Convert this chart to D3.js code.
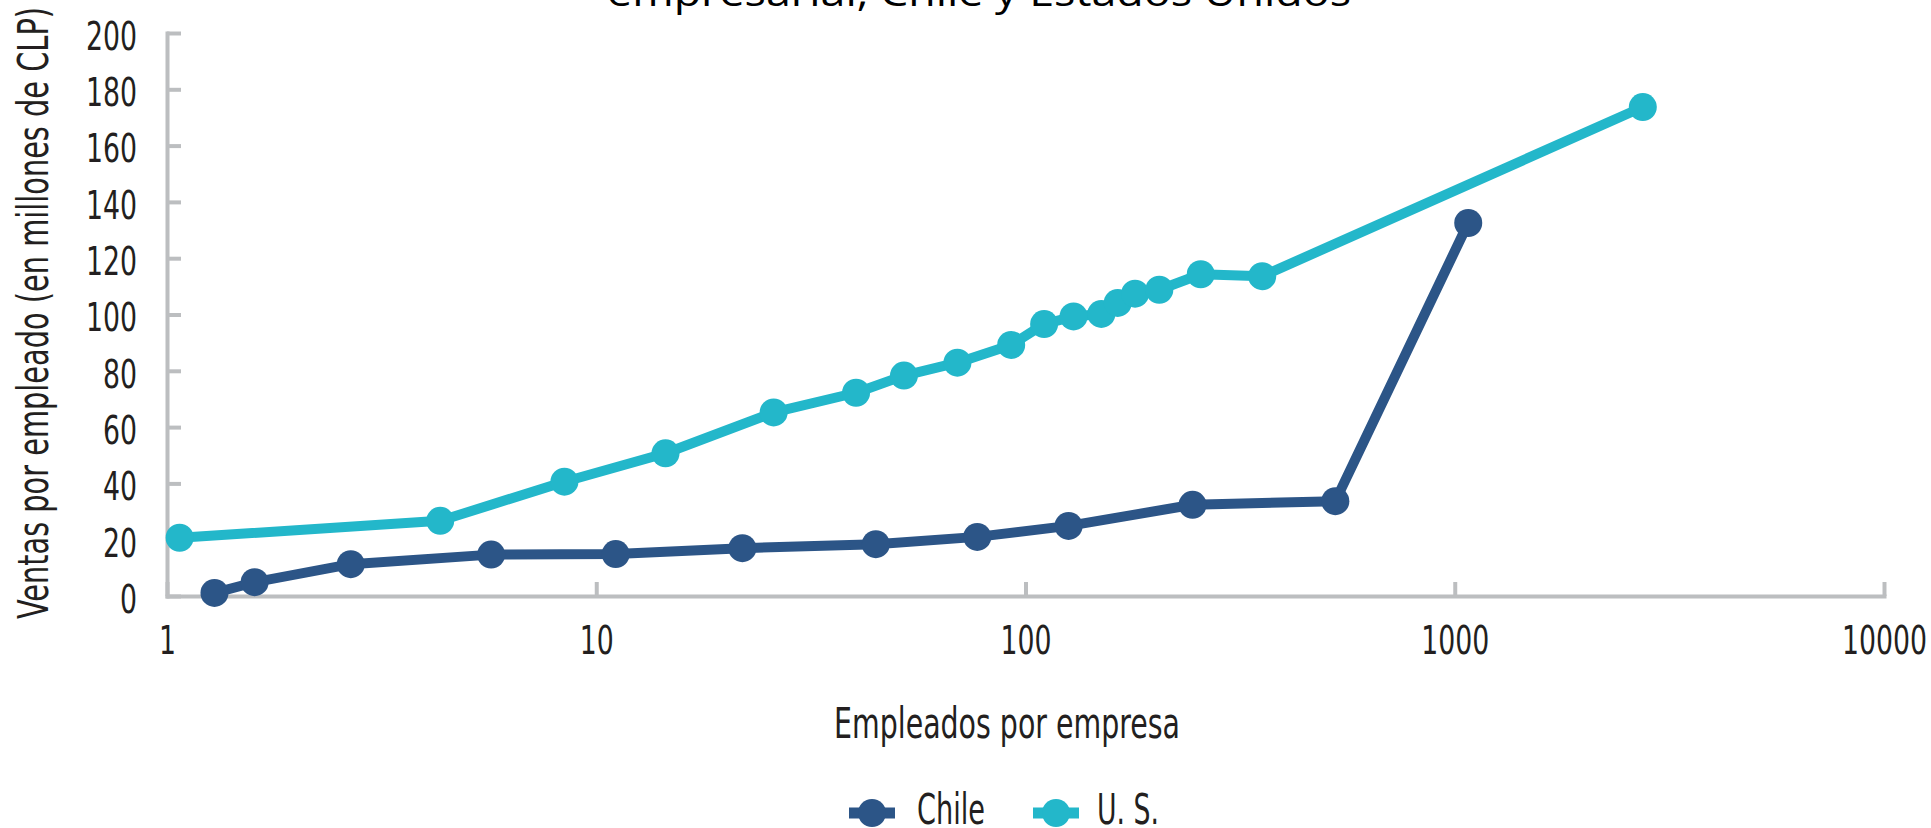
<!DOCTYPE html>
<html>
<head>
<meta charset="utf-8">
<script src="https://cdnjs.cloudflare.com/ajax/libs/d3/7.8.5/d3.min.js"></script>
<style>
  html, body { margin: 0; padding: 0; background: #fff; }
  svg { display: block; }
  .cond { font-family: "Liberation Sans Narrow", "DejaVu Sans Condensed", sans-serif; fill: #231f20; }
</style>
</head>
<body>
<script>
var W = 1931, H = 828;

// values
var chileX = [1.29, 1.60, 2.68, 5.69, 11.1, 21.9, 44.8, 77.2, 126, 245, 527, 1075];
var chileY = [1.1, 4.9, 11.3, 14.7, 14.9, 17.0, 18.4, 21.0, 24.9, 32.4, 33.7, 132.5];
var usX = [1.07, 4.33, 8.43, 14.5, 25.9, 40.3, 52.1, 69.4, 92.6, 110.5, 129.4, 150.2, 164, 180, 205, 256, 356, 2742];
var usY = [20.7, 26.7, 40.6, 50.7, 65.2, 72.2, 78.3, 82.9, 89.2, 96.6, 99.3, 100.2, 104.1, 107.4, 108.8, 114.3, 113.6, 173.7];
var seriesNames = ["Chile", "U. S."];
var xTicks = [1, 10, 100, 1000, 10000];
var yTicks = [0, 20, 40, 60, 80, 100, 120, 140, 160, 180, 200];

var colors = ["#2c5587", "#23b7ca"];

var series = [
  { name: seriesNames[0], color: colors[0], pts: chileX.map(function (v, i) { return { x: v, y: chileY[i] }; }) },
  { name: seriesNames[1], color: colors[1], pts: usX.map(function (v, i) { return { x: v, y: usY[i] }; }) }
];

var svg = d3.select("body").append("svg")
  .attr("width", W).attr("height", H);

var x = d3.scaleLog().domain([1, 10000]).range([167, 1884]);
var y = d3.scaleLinear().domain([0, 200]).range([596, 33]);

// title (only the last line shows in the frame)
svg.append("text")
  .attr("x", 979).attr("y", 6)
  .attr("text-anchor", "middle")
  .attr("textLength", 744).attr("lengthAdjust", "spacingAndGlyphs")
  .style("font-family", "'Open Sans', 'Noto Sans', sans-serif")
  .style("font-size", "38px")
  .style("fill", "#000")
  .text("empresarial, Chile y Estados Unidos");

// axes
var fmt = d3.format("d");
var xAxis = svg.append("g")
  .attr("transform", "translate(0," + y(0) + ")")
  .call(d3.axisBottom(x).tickValues(xTicks).tickFormat(fmt)
    .tickSize(-14).tickSizeOuter(0).tickPadding(30));

var yAxis = svg.append("g")
  .attr("transform", "translate(" + x(1) + ",0)")
  .call(d3.axisLeft(y).tickValues(yTicks).tickFormat(fmt)
    .tickSize(-14).tickSizeOuter(0).tickPadding(30));

[xAxis, yAxis].forEach(function (a) {
  a.select(".domain").attr("stroke", "#bcbec0").attr("stroke-width", 4).attr("stroke-linecap", "square");
  a.selectAll(".tick line").attr("stroke", "#bcbec0").attr("stroke-width", 4);
  a.selectAll(".tick text").attr("class", "cond").style("font-size", "39px").attr("fill", "#231f20")
    .attr("textLength", function (d) { return fmt(d).length * 17; })
    .attr("lengthAdjust", "spacingAndGlyphs");
  a.attr("font-family", null).attr("font-size", null);
});
yAxis.selectAll(".tick text").attr("dy", "0.42em");

// axis titles
svg.append("text")
  .attr("class", "cond")
  .attr("transform", "translate(48,313) rotate(-90)")
  .attr("text-anchor", "middle")
  .attr("textLength", 612).attr("lengthAdjust", "spacingAndGlyphs")
  .style("font-size", "42px")
  .text("Ventas por empleado (en millones de CLP)");

svg.append("text")
  .attr("class", "cond")
  .attr("x", 1007).attr("y", 738)
  .attr("text-anchor", "middle")
  .attr("textLength", 346).attr("lengthAdjust", "spacingAndGlyphs")
  .style("font-size", "43px")
  .text("Empleados por empresa");

// lines + markers
var line = d3.line().x(function (d) { return x(d.x); }).y(function (d) { return y(d.y); });

var g = svg.selectAll(".series").data(series).enter().append("g").attr("class", "series");
g.append("path")
  .attr("d", function (d) { return line(d.pts); })
  .attr("fill", "none")
  .attr("stroke", function (d) { return d.color; })
  .attr("stroke-width", 10)
  .attr("stroke-linejoin", "round");
g.selectAll("circle")
  .data(function (d) { return d.pts.map(function (p) { return { p: p, c: d.color }; }); })
  .enter().append("circle")
  .attr("cx", function (d) { return x(d.p.x); })
  .attr("cy", function (d) { return y(d.p.y); })
  .attr("r", 14)
  .attr("fill", function (d) { return d.c; });

// legend
var legX = [849, 1033], legTextW = [68, 62];
var leg = svg.selectAll(".leg").data(series).enter().append("g")
  .attr("class", "leg")
  .attr("transform", function (d, i) { return "translate(" + legX[i] + ",813)"; });
leg.append("line")
  .attr("x1", 0).attr("x2", 46).attr("y1", 0).attr("y2", 0)
  .attr("stroke", function (d) { return d.color; })
  .attr("stroke-width", 11);
leg.append("circle")
  .attr("cx", 23).attr("cy", 0).attr("r", 14)
  .attr("fill", function (d) { return d.color; });
leg.append("text")
  .attr("class", "cond")
  .attr("x", function (d, i) { return i === 0 ? 68 : 64; })
  .attr("y", 11)
  .attr("textLength", function (d, i) { return legTextW[i]; })
  .attr("lengthAdjust", "spacingAndGlyphs")
  .style("font-size", "43px")
  .text(function (d) { return d.name; });
</script>
</body>
</html>
